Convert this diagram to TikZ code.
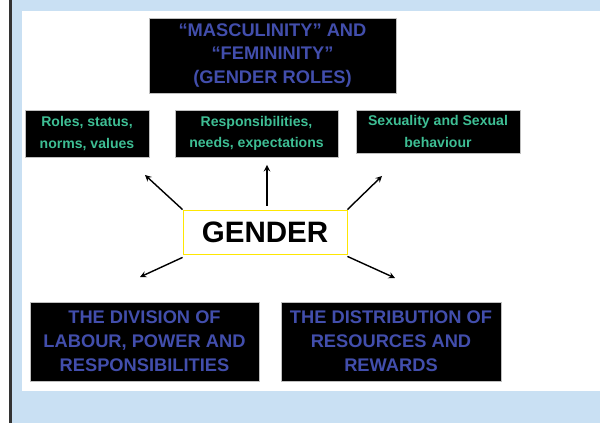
\documentclass[tikz,border=0pt]{standalone}
\usepackage{fontspec}
\setmainfont{Liberation Sans}
\usepackage{tikz}
\usetikzlibrary{shapes.geometric, arrows}
\definecolor{capblue}{RGB}{66,78,172}
\definecolor{tagreen}{RGB}{62,190,148}
\definecolor{framblue}{RGB}{201,224,243}
\tikzstyle{capbox} = [rectangle, fill=black, draw=gray!50, line width=0.4pt, text=capblue, align=center, font=\bfseries\fontsize{13}{17}\selectfont, inner sep=1pt]
\tikzstyle{tagbox} = [rectangle, fill=black, draw=gray!50, line width=0.4pt, text=tagreen, align=center, font=\bfseries\fontsize{10}{15}\selectfont, inner sep=1pt, minimum height=1.175cm]
\tikzstyle{core} = [rectangle, draw=yellow!90!orange, line width=0.6pt, fill=white, minimum width=4.1cm, minimum height=1.1cm, font=\bfseries\fontsize{21}{24}\selectfont]
\tikzstyle{arrow} = [line width=1pt,->,>=stealth]

\begin{document}
\begin{tikzpicture}[node distance=2.5cm, auto]
					% frame
					\useasboundingbox (0,0) rectangle (15,-10.575);
					\fill[white] (0,0) rectangle (15,-10.575);
					\fill[framblue] (0.3,0) rectangle (15,-10.575);
					\fill[white] (0.55,-0.275) rectangle (15,-9.775);
					\fill[black!80] (0.225,0) rectangle (0.3,-10.575);
					%----------------------------------------------------%
					\node(gender) [core] at (6.625,-5.8) {GENDER};
					%----------------------------------------------------%
					\node(resp) [tagbox, minimum width=4.075cm, above of=gender, xshift=-0.2125cm, yshift=-0.0375cm] {Responsibilities,\\needs, expectations};
					\node(roles) [tagbox, minimum width=3.1cm, left of=resp, xshift=-1.7375cm] {Roles, status,\\norms, values};
					\node(sexual) [tagbox, minimum width=4.1cm, minimum height=1.075cm, right of=resp, xshift=2.0375cm, yshift=0.05cm] {Sexuality and Sexual\\behaviour};
					\node(masc) [capbox, minimum width=6.175cm, minimum height=1.875cm, above of=resp, xshift=0.4cm, yshift=-0.55cm] {``MASCULINITY'' AND\\``FEMININITY''\\(GENDER ROLES)};
					%----------------------------------------------------%
					\node(labour) [capbox, minimum width=5.725cm, minimum height=1.975cm, below of=gender, xshift=-3.0125cm, yshift=-0.2375cm] {THE DIVISION OF\\LABOUR, POWER AND\\RESPONSIBILITIES};
					\node(distrib) [capbox, minimum width=5.5cm, minimum height=1.975cm, right of=labour, xshift=3.6625cm] {THE DISTRIBUTION OF\\RESOURCES AND\\REWARDS};
					%----------------------------------------------------%
					\coordinate(tipRoles) at ([shift={(-3.0,1.425)}]gender.center);
					\coordinate(tipResp) at ([shift={(0.05,1.675)}]gender.center);
					\coordinate(tipSex) at ([shift={(2.925,1.4)}]gender.center);
					\coordinate(tipLabour) at ([shift={(-3.125,-1.125)}]gender.center);
					\coordinate(tipDistrib) at ([shift={(3.25,-1.15)}]gender.center);
					
					\draw[arrow] (gender.north west) -- (tipRoles);
					\draw[arrow] ([xshift=0.05cm, yshift=0.1cm]gender.north) -- (tipResp);
					\draw[arrow] (gender.north east) -- (tipSex);
					\draw[arrow] ([yshift=-0.075cm]gender.south west) -- (tipLabour);
					\draw[arrow] ([yshift=-0.05cm]gender.south east) -- (tipDistrib);
				\end{tikzpicture}
\end{document}
